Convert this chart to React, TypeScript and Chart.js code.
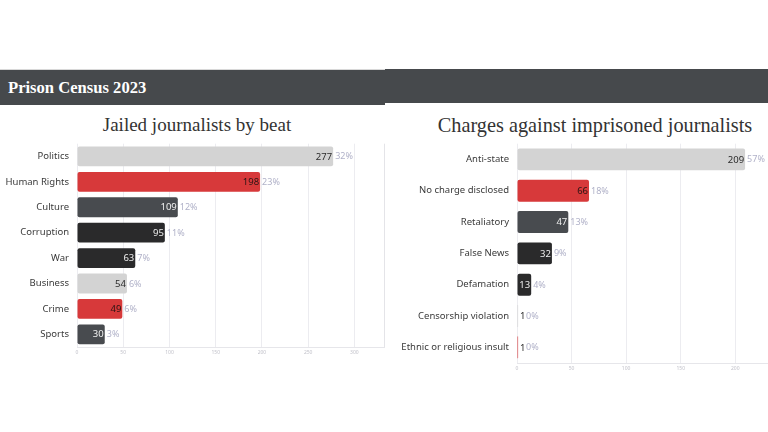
import React, { useEffect, useRef } from "react";
import { Chart, registerables } from "chart.js";

Chart.register(...registerables);

// Jailed journalists by beat
const beatLabels = ["Politics", "Human Rights", "Culture", "Corruption", "War", "Business", "Crime", "Sports"];
const beatCounts = [277, 198, 109, 95, 63, 54, 49, 30];
const beatShares = [32, 23, 12, 11, 7, 6, 6, 3];

// Charges against imprisoned journalists
const chargeLabels = [
  "Anti-state",
  "No charge disclosed",
  "Retaliatory",
  "False News",
  "Defamation",
  "Censorship violation",
  "Ethnic or religious insult",
];
const chargeCounts = [209, 66, 47, 32, 13, 1, 1];
const chargeShares = [57, 18, 13, 9, 4, 0, 0];

const tickStep = 50;

// Repeating bar palette and the matching in-bar text colours
const LIGHT = "#d3d3d3";
const RED = "#d7393a";
const SLATE = "#484b4f";
const BLACK = "#2a2a2b";
const palette = [LIGHT, RED, SLATE, BLACK, BLACK];
const inkOn: Record<string, string> = {
  [LIGHT]: "#2b2b2b",
  [RED]: "#2b1414",
  [SLATE]: "#f2f2f2",
  [BLACK]: "#ececec",
};

const SANS = "'Noto Sans', 'Open Sans', sans-serif";
const SERIF = "'Liberation Serif', 'DejaVu Serif', serif";

type PanelProps = {
  labels: string[];
  counts: number[];
  shares: number[];
  max: number;
  width: number;
  height: number;
  padTop: number;
  padRight: number;
  yAxisWidth: number;
  xAxisHeight: number;
  barPct: number;
  frameRight: boolean;
};

function BarPanel(p: PanelProps) {
  const ref = useRef<HTMLCanvasElement | null>(null);

  useEffect(() => {
    if (!ref.current) return;
    const colors = p.labels.map((_, i) => palette[i % palette.length]);

    const valueLabels = {
      id: "valueLabels",
      afterDatasetsDraw(chart: any) {
        const ctx = chart.ctx;
        const meta = chart.getDatasetMeta(0);
        ctx.save();
        ctx.textBaseline = "middle";
        meta.data.forEach((bar: any, i: number) => {
          const { x, y, base } = bar.getProps(["x", "y", "base"], true);
          const w = x - base;
          const txt = String(p.counts[i]);
          ctx.font = `400 9.5px ${SANS}`;
          const tw = ctx.measureText(txt).width;
          let next: number;
          if (tw + 2 <= w) {
            ctx.textAlign = "right";
            ctx.fillStyle = inkOn[colors[i]];
            ctx.fillText(txt, x - 1, y + 0.5);
            next = x + 2;
          } else {
            ctx.textAlign = "left";
            ctx.fillStyle = "#2b2b2b";
            ctx.fillText(txt, x + 2, y + 0.5);
            next = x + 2 + tw + 0.5;
          }
          ctx.textAlign = "left";
          ctx.font = `400 9px ${SANS}`;
          ctx.fillStyle = "#b0b1c8";
          ctx.fillText(`${p.shares[i]}%`, next, y + 0.5);
        });
        ctx.restore();
      },
    };

    const frame = {
      id: "frame",
      beforeDatasetsDraw(chart: any) {
        if (!p.frameRight) return;
        const { ctx, chartArea } = chart;
        ctx.save();
        ctx.strokeStyle = "#e4e4e8";
        ctx.lineWidth = 1;
        ctx.beginPath();
        ctx.moveTo(Math.round(chartArea.right) + 0.5, chartArea.top);
        ctx.lineTo(Math.round(chartArea.right) + 0.5, chartArea.bottom);
        ctx.stroke();
        ctx.restore();
      },
    };

    const chart = new Chart(ref.current, {
      type: "bar",
      data: {
        labels: p.labels,
        datasets: [
          {
            data: p.counts,
            backgroundColor: colors,
            borderRadius: 2,
            borderSkipped: false,
            barPercentage: p.barPct,
            categoryPercentage: 1,
          },
        ],
      },
      options: {
        indexAxis: "y",
        responsive: false,
        animation: false,
        layout: { padding: { top: p.padTop, right: p.padRight, left: 0, bottom: 0 } },
        plugins: { legend: { display: false }, tooltip: { enabled: false } },
        scales: {
          x: {
            min: 0,
            max: p.max,
            afterFit(axis: any) {
              axis.height = p.xAxisHeight;
            },
            grid: { color: "#ececf0", drawTicks: false },
            border: { display: true, color: "#e6e6ea" },
            ticks: {
              stepSize: tickStep,
              includeBounds: false,
              padding: 3,
              color: "#c2c2ca",
              font: { family: SANS, size: 5 },
              maxRotation: 0,
            },
          },
          y: {
            afterFit(axis: any) {
              axis.width = p.yAxisWidth;
            },
            grid: { display: false, drawTicks: false },
            border: { display: false },
            ticks: {
              padding: 8,
              color: "#3a3a3a",
              font: { family: SANS, size: 9.5 },
              autoSkip: false,
            },
          },
        },
      },
      plugins: [frame, valueLabels],
    } as any);

    return () => chart.destroy();
  }, []);

  return <canvas ref={ref} width={p.width} height={p.height} style={{ display: "block" }} />;
}

export default function App() {
  return (
    <div
      style={{
        position: "fixed",
        left: 0,
        top: 0,
        width: 768,
        height: 432,
        background: "#ffffff",
        overflow: "hidden",
      }}
    >
      {/* header band */}
      <div style={{ position: "absolute", left: 0, top: 69, width: 385, height: 1, background: "#d8d8d8" }} />
      <div style={{ position: "absolute", left: 0, top: 70, width: 385, height: 35, background: "#46494c" }} />
      <div style={{ position: "absolute", left: 385, top: 69, width: 383, height: 34, background: "#46494c" }} />
      <div
        style={{
          position: "absolute",
          left: 8,
          top: 77,
          fontFamily: SERIF,
          fontWeight: 700,
          fontSize: 16.6,
          lineHeight: "22px",
          color: "#ffffff",
          whiteSpace: "nowrap",
        }}
      >
        Prison Census 2023
      </div>

      {/* panel titles */}
      <div
        style={{
          position: "absolute",
          left: 0,
          top: 111,
          width: 394,
          textAlign: "center",
          fontFamily: SERIF,
          fontSize: 19,
          lineHeight: "28px",
          color: "#333333",
          whiteSpace: "nowrap",
        }}
      >
        Jailed journalists by beat
      </div>
      <div
        style={{
          position: "absolute",
          left: 385,
          top: 111,
          width: 420,
          textAlign: "center",
          fontFamily: SERIF,
          fontSize: 20.3,
          lineHeight: "28px",
          color: "#333333",
          whiteSpace: "nowrap",
        }}
      >
        Charges against imprisoned journalists
      </div>

      <div style={{ position: "absolute", left: 0, top: 130 }}>
        <BarPanel
          labels={beatLabels}
          counts={beatCounts}
          shares={beatShares}
          max={332}
          width={392}
          height={240}
          padTop={12}
          padRight={8}
          yAxisWidth={77}
          xAxisHeight={23}
          barPct={0.78}
          frameRight={true}
        />
      </div>
      <div style={{ position: "absolute", left: 385, top: 130 }}>
        <BarPanel
          labels={chargeLabels}
          counts={chargeCounts}
          shares={chargeShares}
          max={230}
          width={383}
          height={250}
          padTop={13}
          padRight={0}
          yAxisWidth={132}
          xAxisHeight={17}
          barPct={0.7}
          frameRight={false}
        />
      </div>
    </div>
  );
}
